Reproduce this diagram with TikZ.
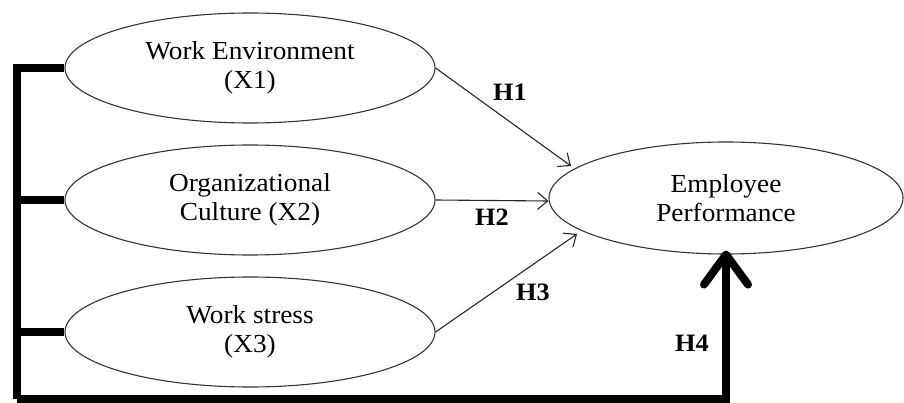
\documentclass[tikz,border=0pt]{standalone}
\usepackage{fontspec}
\setmainfont{Liberation Serif}[FakeStretch=1.05]
\usetikzlibrary{arrows.meta,shapes.geometric}
\begin{document}
\begin{tikzpicture}[x=1pt,y=-1pt,
  var/.style={ellipse, draw=black!80, line width=1.1pt, inner sep=0pt,
    minimum width=370pt, minimum height=110pt, align=center,
    font=\fontsize{26}{29}\selectfont},
  thinarrow/.style={draw=black!85, line width=1.1pt,
    -{Straight Barb[length=10pt,width=17pt]}},
  bus/.style={draw=black, line width=8pt, line join=miter},
  hlabel/.style={font=\fontsize{25}{28}\selectfont\bfseries, inner sep=0pt}]
\useasboundingbox (0,0) rectangle (904,403);
\node[var] (e1) at (250,68) {Work Environment\\(X1)};
\node[var] (e2) at (250,200) {Organizational\\Culture (X2)};
\node[var] (e3) at (250,332) {Work stress\\(X3)};
\node[var, minimum width=354pt, minimum height=112pt] (ep) at (726,198) {Employee\\Performance};
\coordinate (t1) at (571,166);
\coordinate (t3) at (577,234);
\coordinate (bl) at (17,399);
\draw[thinarrow] (e1.east) -- (t1);
\draw[thinarrow] (e2.east) -- ([yshift=-3pt]ep.west);
\draw[thinarrow] (e3.east) -- (t3);
\draw[bus] (e1.west) -| (bl);
\draw[bus] (e2.west) -- (e2.west -| bl);
\draw[bus] (e3.west) -- (e3.west -| bl);
\draw[bus, -{Straight Barb[length=30pt,width=44pt,line cap=round,line join=round]}]
  (bl) -| ([yshift=4pt]ep.south);
\node[hlabel] (h1) at (510,92) {H1};
\node[hlabel] (h2) at (492,217) {H2};
\node[hlabel] (h3) at (533,292) {H3};
\node[hlabel] (h4) at (692,343) {H4};
\end{tikzpicture}
\end{document}
